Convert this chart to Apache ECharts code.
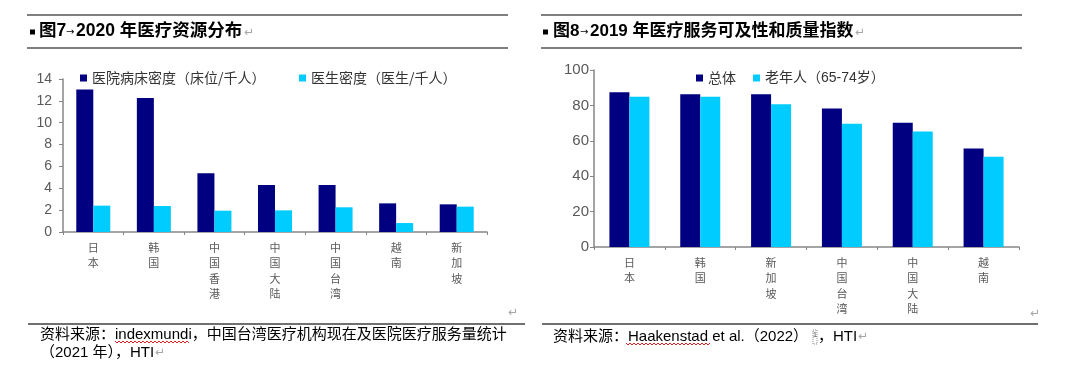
<!DOCTYPE html>
<html>
<head>
<meta charset="utf-8">
<script src="https://cdn.jsdelivr.net/npm/echarts@6/dist/echarts.min.js"></script>
<style>
html,body{margin:0;padding:0;background:#fff;}
#c{width:1080px;height:367px;}
</style>
</head>
<body>
<div id="c"></div>
<script>
// ---- data ----
const cats1 = ['日本','韩国','中国香港','中国大陆','中国台湾','越南','新加坡'];
const beds = [13.05, 12.26, 5.37, 4.3, 4.3, 2.62, 2.53];
const doctors = [2.41, 2.38, 1.95, 1.98, 2.26, 0.82, 2.32];
const yTicks1 = [0, 2, 4, 6, 8, 10, 12, 14];

const cats2 = ['日本','韩国','新加坡','中国台湾','中国大陆','越南'];
const overall = [87.4, 86.3, 86.3, 78.2, 70.2, 55.6];
const elderly = [84.9, 84.9, 80.6, 69.7, 65.3, 51.0];
const yTicks2 = [0, 20, 40, 60, 80, 100];

const seriesNames1 = ['医院病床密度（床位/千人）', '医生密度（医生/千人）'];
const seriesNames2 = ['总体', '老年人（65-74岁）'];

const title1 = ['图7', '2020 年医疗资源分布'];
const title2 = ['图8', '2019 年医疗服务可及性和质量指数'];
const source1a = '资料来源：indexmundi，中国台湾医疗机构现在及医院医疗服务量统计';
const source1b = '（2021 年），HTI';
const source2 = ['资料来源：Haakenstad et al.（2022）', '，HTI'];

// ---- styles ----
const DARK = '#000080';
const LIGHT = '#00CCFF';
const AXIS = '#868686';
const LBL = '#595959';
const FONT = '"Liberation Sans", Arial, "Noto Sans CJK SC", sans-serif';
const CJK = '"Noto Sans CJK SC", "Liberation Sans", sans-serif';

const chart = echarts.init(document.getElementById('c'), null, {renderer: 'canvas'});

function vert(v) { return v.split('').join('\n'); }

function txt(x, y, text, size, opts) {
  opts = opts || {};
  return {
    type: 'text', x: x, y: y, silent: true,
    style: {
      text: text,
      font: (opts.weight || 'normal') + ' ' + size + 'px ' + (opts.family || FONT),
      fill: opts.fill || '#000',
      textAlign: opts.align || 'left', align: opts.align || 'left',
      textVerticalAlign: 'middle', verticalAlign: 'middle'
    }
  };
}
function hline(x1, x2, y, color, w) {
  return {type: 'line', silent: true, shape: {x1: x1, y1: y, x2: x2, y2: y}, style: {stroke: color, lineWidth: w}};
}
function wavy(x1, x2, y) {
  const pts = [];
  let up = true;
  for (let x = x1; x <= x2; x += 2) { pts.push([x, y + (up ? -1 : 1)]); up = !up; }
  return {type: 'polyline', silent: true, shape: {points: pts}, style: {stroke: '#e02020', lineWidth: 1, fill: null}};
}
const RET = '↵';
const RETC = '#a6a6a6';
const SYM = '"DejaVu Sans", sans-serif';

const graphics = [
  // left header
  hline(27, 508, 15, '#7f7f7f', 2),
  hline(27, 508, 48, '#7f7f7f', 2),
  {type: 'rect', silent: true, shape: {x: 30, y: 29.5, width: 5, height: 5}, style: {fill: '#000'}},
  txt(39, 31.5, title1[0], 17.5, {weight: 'bold'}),
  txt(66, 32, '→', 10, {family: SYM}),
  txt(76, 31.5, title1[1], 17.5, {weight: 'bold'}),
  txt(244, 33, RET, 12, {family: SYM, fill: RETC}),
  // right header
  hline(541, 1022, 15, '#7f7f7f', 2),
  hline(541, 1022, 48, '#7f7f7f', 2),
  {type: 'rect', silent: true, shape: {x: 543, y: 29.5, width: 5, height: 5}, style: {fill: '#000'}},
  txt(553, 31.5, title2[0], 17, {weight: 'bold'}),
  txt(580, 32, '→', 10, {family: SYM}),
  txt(590, 31.5, title2[1], 17, {weight: 'bold'}),
  txt(855, 33, RET, 12, {family: SYM, fill: RETC}),
  // paragraph marks in chart areas
  txt(508, 313, RET, 12, {family: SYM, fill: RETC}),
  txt(1030, 314, RET, 12, {family: SYM, fill: RETC}),
  // left source
  hline(28, 525, 324, '#404040', 1.5),
  txt(40, 334.5, source1a, 15),
  wavy(115, 190, 342),
  txt(40, 353, source1b, 15),
  txt(155, 353, RET, 12, {family: SYM, fill: RETC}),
  // right source
  hline(542, 1038, 324, '#404040', 1.5),
  txt(553, 337, source2[0], 15),
  wavy(626, 710, 344),
  {type: 'rect', silent: true, shape: {x: 813, y: 330, width: 4, height: 14}, style: {fill: null, stroke: '#888', lineWidth: 1, lineDash: [1, 1]}},
  txt(815, 335, '1', 8, {fill: '#555', align: 'center'}),
  txt(818, 337, source2[1], 15),
  txt(858, 337, RET, 12, {family: SYM, fill: RETC})
];

const catAxisCommon = {
  type: 'category',
  axisLine: {show: true, lineStyle: {color: AXIS, width: 1.5}},
  axisTick: {show: true, length: 3, inside: false, lineStyle: {color: AXIS, width: 1}},
  axisLabel: {
    interval: 0, margin: 8, color: LBL, fontSize: 11, lineHeight: 15.5,
    fontFamily: CJK, formatter: vert, verticalAlign: 'top'
  },
  splitLine: {show: false}
};

const legendText = {fontSize: 14, color: '#333', fontFamily: CJK};

const option = {
  backgroundColor: '#fff',
  animation: false,
  graphic: graphics,
  legend: [
    {data: [seriesNames1[0]], left: 80, top: 71, padding: 0, itemWidth: 7, itemHeight: 7, icon: 'rect', textStyle: legendText},
    {data: [seriesNames1[1]], left: 299, top: 71, padding: 0, itemWidth: 7, itemHeight: 7, icon: 'rect', textStyle: legendText},
    {data: [seriesNames2[0]], left: 696, top: 71, padding: 0, itemWidth: 7, itemHeight: 7, icon: 'rect', textStyle: legendText},
    {data: [seriesNames2[1]], left: 753, top: 71, padding: 0, itemWidth: 7, itemHeight: 7, icon: 'rect',
     textStyle: {fontSize: 14, color: '#333', fontFamily: '"Liberation Sans", "Noto Sans CJK SC", sans-serif'}}
  ],
  grid: [
    {left: 63, right: 1080 - 487, top: 79, bottom: 367 - 232, containLabel: false},
    {left: 594, right: 1080 - 1019, top: 70, bottom: 367 - 247, containLabel: false}
  ],
  xAxis: [
    Object.assign({}, catAxisCommon, {gridIndex: 0, data: cats1}),
    Object.assign({}, catAxisCommon, {gridIndex: 1, data: cats2})
  ],
  yAxis: [
    {type: 'value', gridIndex: 0, min: yTicks1[0], max: yTicks1[yTicks1.length - 1], interval: yTicks1[1] - yTicks1[0],
     axisLine: {show: true, lineStyle: {color: AXIS, width: 1.5}},
     axisTick: {show: true, length: 4, lineStyle: {color: AXIS}},
     axisLabel: {color: LBL, fontSize: 14, margin: 11, fontFamily: FONT},
     splitLine: {show: false}},
    {type: 'value', gridIndex: 1, min: yTicks2[0], max: yTicks2[yTicks2.length - 1], interval: yTicks2[1] - yTicks2[0],
     axisLine: {show: true, lineStyle: {color: AXIS, width: 1.5}},
     axisTick: {show: true, length: 4, lineStyle: {color: AXIS}},
     axisLabel: {color: LBL, fontSize: 15, margin: 5, fontFamily: FONT},
     splitLine: {show: false}}
  ],
  series: [
    {name: seriesNames1[0], type: 'bar', xAxisIndex: 0, yAxisIndex: 0, data: beds, barWidth: 17, barGap: '0%',
     itemStyle: {color: DARK}},
    {name: seriesNames1[1], type: 'bar', xAxisIndex: 0, yAxisIndex: 0, data: doctors, barWidth: 17, barGap: '0%',
     itemStyle: {color: LIGHT}},
    {name: seriesNames2[0], type: 'bar', xAxisIndex: 1, yAxisIndex: 1, data: overall, barWidth: 20, barGap: '0%',
     itemStyle: {color: DARK}},
    {name: seriesNames2[1], type: 'bar', xAxisIndex: 1, yAxisIndex: 1, data: elderly, barWidth: 20, barGap: '0%',
     itemStyle: {color: LIGHT}}
  ]
};
chart.setOption(option);
</script>
</body>
</html>
